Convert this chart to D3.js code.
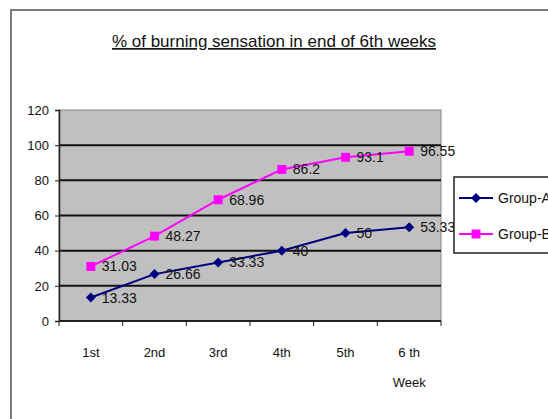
<!DOCTYPE html>
<html>
<head>
<meta charset="utf-8">
<script src="https://cdn.jsdelivr.net/npm/d3@7/dist/d3.min.js"></script>
<style>
  html, body { margin: 0; padding: 0; background: #fff; }
  svg { display: block; font-family: "Liberation Sans", Arial, sans-serif; }
</style>
</head>
<body>
<svg id="chart" width="548" height="419"></svg>
<script>
// Weekly percentages of burning sensation for the two groups
const weeks = ["1st", "2nd", "3rd", "4th", "5th", "6 th"];
const groupA = [13.33, 26.66, 33.33, 40, 50, 53.33];
const groupB = [31.03, 48.27, 68.96, 86.2, 93.1, 96.55];
const seriesNames = ["Group-A", "Group-B"];
const yTicks = [0, 20, 40, 60, 80, 100, 120];
const titleText = "% of burning sensation in end of 6th weeks";
const xAxisTitle = "Week";

const svg = d3.select("#chart");

// outer chart frame (runs past the right and bottom edges)
svg.append("rect")
  .attr("x", 11).attr("y", 10)
  .attr("width", 560).attr("height", 430)
  .attr("fill", "none").attr("stroke", "#7a7a7a").attr("stroke-width", 2);

const plot = { left: 59, right: 441, top: 110, bottom: 321 };

const x = d3.scaleBand().domain(weeks).range([plot.left, plot.right]);
const y = d3.scaleLinear().domain([0, 120]).range([plot.bottom, plot.top]);

// plot background
svg.append("rect")
  .attr("x", plot.left).attr("y", plot.top)
  .attr("width", plot.right - plot.left).attr("height", plot.bottom - plot.top)
  .attr("fill", "#c0c0c0").attr("stroke", "#8a8a8a").attr("stroke-width", 1);

// horizontal gridlines
svg.append("g").selectAll("line")
  .data(yTicks.filter(d => d > 0 && d < 120))
  .join("line")
  .attr("x1", plot.left).attr("x2", plot.right)
  .attr("y1", d => y(d)).attr("y2", d => y(d))
  .attr("stroke", "#111").attr("stroke-width", 2);

// y axis
const yAxis = svg.append("g")
  .attr("transform", `translate(${plot.left},0)`)
  .call(d3.axisLeft(y).tickValues(yTicks).tickSize(4).tickPadding(6));
yAxis.select(".domain").attr("stroke", "#222").attr("stroke-width", 1.5);
yAxis.selectAll(".tick line").attr("stroke", "#222");
yAxis.selectAll("text").attr("font-size", 13).attr("fill", "#111")
  .attr("font-family", "Liberation Sans, Arial, sans-serif");

// x axis: ticks sit on band boundaries
const xAxis = svg.append("g")
  .attr("transform", `translate(0,${plot.bottom})`);
xAxis.append("line")
  .attr("x1", plot.left).attr("x2", plot.right)
  .attr("stroke", "#222").attr("stroke-width", 2);
const bounds = weeks.map(w => x(w)).concat([plot.right]);
xAxis.selectAll("line.tk").data(bounds).join("line")
  .attr("class", "tk")
  .attr("x1", d => d).attr("x2", d => d)
  .attr("y1", 0).attr("y2", 5)
  .attr("stroke", "#222").attr("stroke-width", 1);
xAxis.selectAll("text").data(weeks).join("text")
  .attr("x", d => x(d) + x.bandwidth() / 2)
  .attr("y", 36)
  .attr("text-anchor", "middle")
  .attr("font-size", 13).attr("fill", "#111")
  .text(d => d);
svg.append("text")
  .attr("x", x(weeks[5]) + x.bandwidth() / 2)
  .attr("y", 387)
  .attr("text-anchor", "middle")
  .attr("font-size", 13).attr("fill", "#111")
  .text(xAxisTitle);

// title
svg.append("text")
  .attr("x", 274).attr("y", 47)
  .attr("text-anchor", "middle")
  .attr("font-size", 17).attr("fill", "#111")
  .attr("text-decoration", "underline")
  .text(titleText);

const line = d3.line()
  .x((d, i) => x(weeks[i]) + x.bandwidth() / 2)
  .y(d => y(d));

// marker shapes: diamond is a square turned 45 degrees
const markerPath = shape => shape === "square"
  ? d3.symbol().type(d3.symbolSquare).size(80)()
  : d3.symbol().type(d3.symbolSquare).size(50)();
const markerRot = shape => shape === "square" ? 0 : 45;

const series = [
  { name: seriesNames[0], values: groupA, color: "#000080", shape: "diamond" },
  { name: seriesNames[1], values: groupB, color: "#ff00ff", shape: "square" }
];

series.forEach(s => {
  const g = svg.append("g");
  g.append("path")
    .attr("d", line(s.values))
    .attr("fill", "none").attr("stroke", s.color).attr("stroke-width", 2);
  g.selectAll("path.mk").data(s.values).join("path")
    .attr("class", "mk")
    .attr("transform", (d, i) => `translate(${x(weeks[i]) + x.bandwidth() / 2},${y(d)}) rotate(${markerRot(s.shape)})`)
    .attr("d", markerPath(s.shape))
    .attr("fill", s.color);
  g.selectAll("text").data(s.values).join("text")
    .attr("x", (d, i) => x(weeks[i]) + x.bandwidth() / 2 + 11)
    .attr("y", d => y(d) + 5)
    .attr("font-size", 14).attr("fill", "#111")
    .text(d => d);
});

// legend
const legend = svg.append("g");
legend.append("rect")
  .attr("x", 454).attr("y", 177)
  .attr("width", 110).attr("height", 76)
  .attr("fill", "#fff").attr("stroke", "#222").attr("stroke-width", 1.5);
series.forEach((s, i) => {
  const ly = 198 + i * 36;
  legend.append("line")
    .attr("x1", 459).attr("x2", 493).attr("y1", ly).attr("y2", ly)
    .attr("stroke", s.color).attr("stroke-width", 2);
  legend.append("path")
    .attr("transform", `translate(476,${ly}) rotate(${markerRot(s.shape)})`)
    .attr("d", markerPath(s.shape))
    .attr("fill", s.color);
  legend.append("text")
    .attr("x", 498).attr("y", ly + 5)
    .attr("font-size", 14).attr("fill", "#111")
    .text(s.name);
});
</script>
</body>
</html>
